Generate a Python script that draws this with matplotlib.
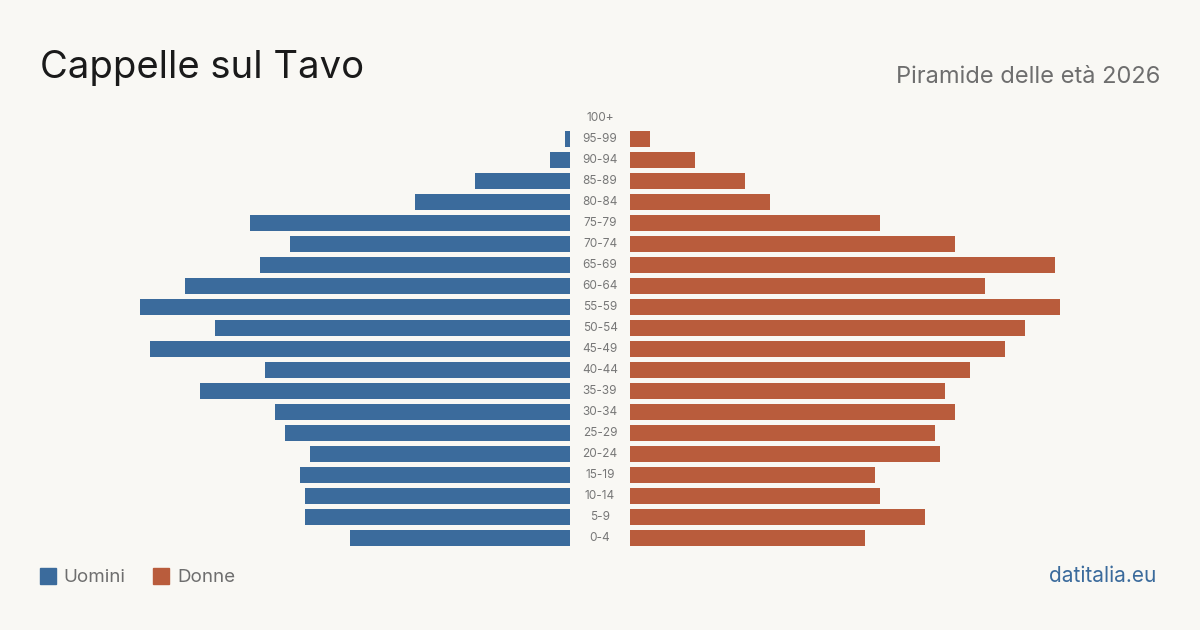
import matplotlib
matplotlib.use("Agg")
import matplotlib.pyplot as plt
import matplotlib.transforms as transforms
from matplotlib.patches import Rectangle

# Age classes, bottom to top
age_groups = ['0-4', '5-9', '10-14', '15-19', '20-24', '25-29', '30-34',
              '35-39', '40-44', '45-49', '50-54', '55-59', '60-64', '65-69',
              '70-74', '75-79', '80-84', '85-89', '90-94', '95-99', '100+']
men = [44, 53, 53, 54, 52, 57, 59, 74, 61, 84, 71, 86, 77, 62, 56, 64, 31, 19, 4, 1, 0]
women = [47, 59, 50, 49, 62, 61, 65, 63, 68, 75, 79, 86, 71, 85, 65, 50, 28, 23, 13, 4, 0]

blue = '#3b6b9c'
orange = '#b95c3c'
bg = '#f9f8f4'
plt.rcParams['font.family'] = ['Inter', 'DejaVu Sans']

fig = plt.figure(figsize=(12, 6.3), dpi=100)
fig.patch.set_facecolor(bg)

W, H = 1200, 630
bottom = (H - 548.5) / H
height = 441 / H
ax_l = fig.add_axes([40 / W, bottom, 530 / W, height])
ax_r = fig.add_axes([630 / W, bottom, 530 / W, height])

y = range(len(age_groups))
ax_l.barh(y, men, height=0.8, color=blue)
ax_r.barh(y, women, height=0.8, color=orange)
ax_l.set_xlim(106, 0)
ax_r.set_xlim(0, 106)
for ax in (ax_l, ax_r):
    ax.set_ylim(-0.5, len(age_groups) - 0.5)
    ax.axis('off')

trans = transforms.blended_transform_factory(fig.transFigure, ax_l.transData)
for i, lab in enumerate(age_groups):
    fig.text(0.5, i, lab, transform=trans, ha='center', va='center',
             fontsize=8.5, color='#777777')

fig.text(40 / W, 1 - 68 / H, 'Cappelle sul Tavo', fontsize=27.5, color='#1a1a1a',
         va='center', ha='left')
fig.text(1160 / W, 1 - 77 / H, 'Piramide delle età 2026', fontsize=17,
         color='#6e6e6e', va='center', ha='right')

# legend
fig.patches.append(Rectangle((40 / W, 1 - 584 / H), 16 / W, 16 / H,
                             transform=fig.transFigure, color=blue))
fig.text(63 / W, 1 - 577 / H, 'Uomini', fontsize=13.5, color='#6e6e6e', va='center')
fig.patches.append(Rectangle((153 / W, 1 - 584 / H), 16 / W, 16 / H,
                             transform=fig.transFigure, color=orange))
fig.text(177 / W, 1 - 577 / H, 'Donne', fontsize=13.5, color='#6e6e6e', va='center')
fig.text(1156 / W, 1 - 576 / H, 'datitalia.eu', fontsize=15, color=blue,
         va='center', ha='right')

fig.savefig('out.png', dpi=100, facecolor=bg)
